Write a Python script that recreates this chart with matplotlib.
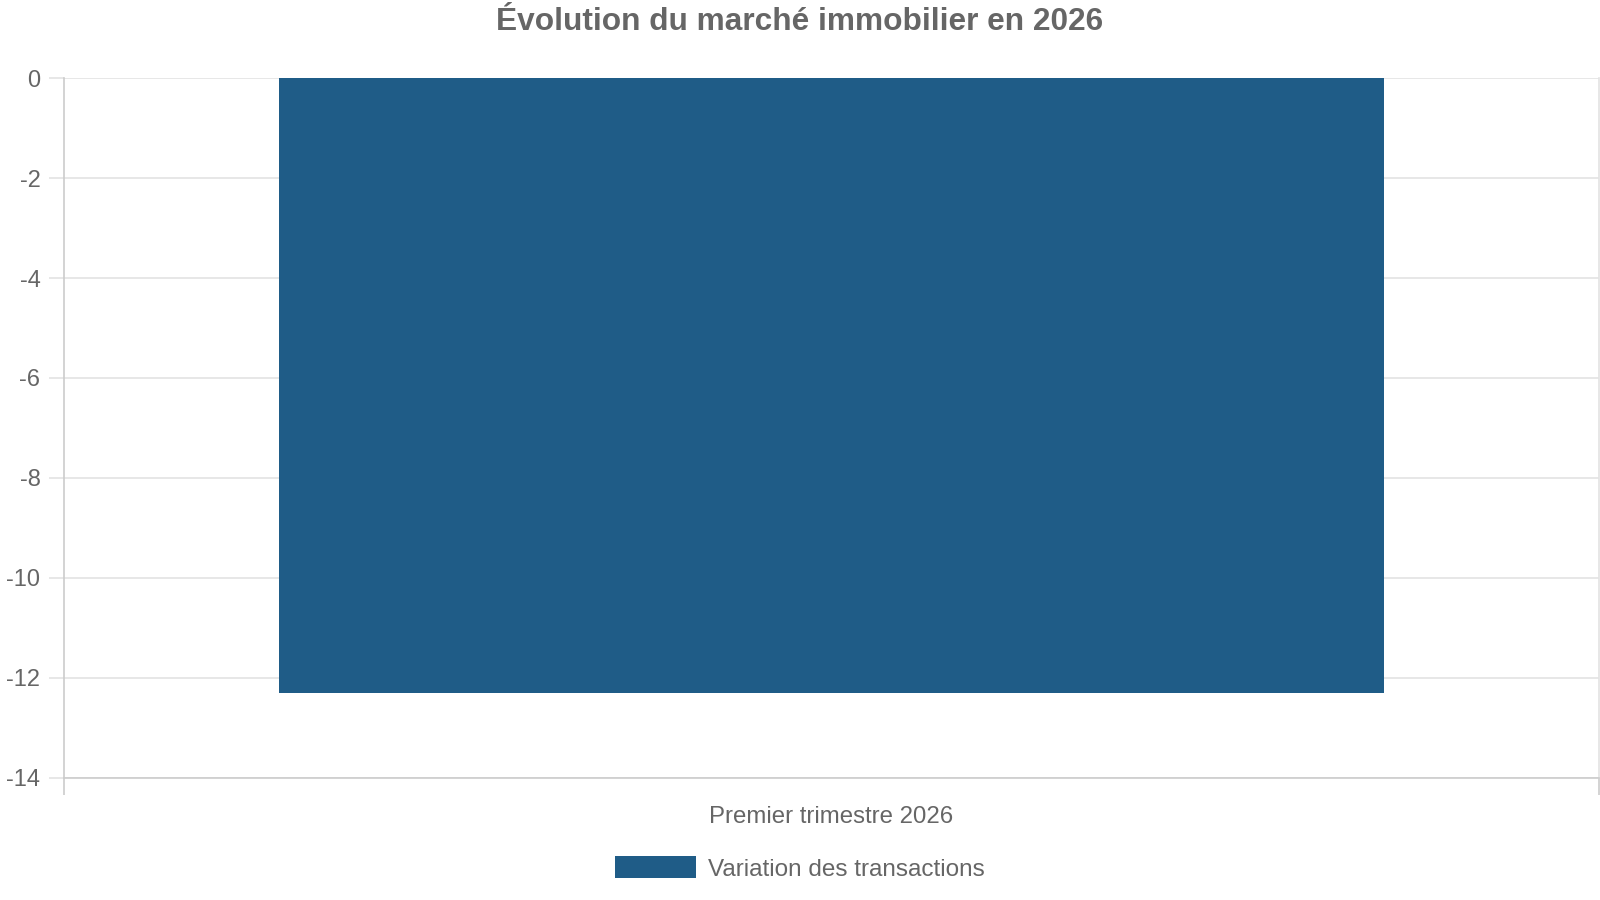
import matplotlib.pyplot as plt
from matplotlib.patches import Patch

categories = ["Premier trimestre 2026"]
variation = [-12.3]
series_name = "Variation des transactions"
y_ticks = [0, -2, -4, -6, -8, -10, -12, -14]

plt.rcParams["font.family"] = ["Liberation Sans", "DejaVu Sans"]

BAR_COLOR = "#1f5c87"
TEXT_COLOR = "#666666"
GRID_COLOR = "#e3e3e3"
AXIS_COLOR = "#cccccc"

fig = plt.figure(figsize=(16, 9), dpi=100)
ax = fig.add_axes([0.04, 0.1356, 0.9594, 0.7777])

x = list(range(len(categories)))
ax.bar(x, variation, width=0.72, color=BAR_COLOR, zorder=2)

ax.set_xlim(-0.5, len(categories) - 0.5)
ax.set_ylim(-14, 0)
ax.set_yticks(y_ticks)
ax.set_yticklabels([str(t) for t in y_ticks])
ax.grid(axis="y", color=GRID_COLOR, linewidth=1.2, zorder=1)
ax.set_axisbelow(True)

# category boundary ticks + centred label
ax.set_xticks([i - 0.5 for i in range(len(categories) + 1)])
ax.set_xticklabels([])
ax.set_xticks(x, minor=True)
ax.set_xticklabels(categories, minor=True)
ax.tick_params(axis="x", which="major", length=12, color=AXIS_COLOR, width=1.2)
ax.tick_params(axis="x", which="minor", length=0, pad=20, labelsize=17.3, labelcolor=TEXT_COLOR)
ax.tick_params(axis="y", length=11, color=GRID_COLOR, width=1.2, pad=6, labelsize=17, labelcolor=TEXT_COLOR)

ax.spines["top"].set_visible(False)
ax.spines["left"].set_color(AXIS_COLOR)
ax.spines["bottom"].set_color(AXIS_COLOR)
ax.spines["right"].set_color(GRID_COLOR)
for s in ["left", "bottom", "right"]:
    ax.spines[s].set_linewidth(1.2)

fig.suptitle("Évolution du marché immobilier en 2026", x=0.5, y=0.992,
             fontsize=22.8, fontweight="bold", color=TEXT_COLOR)

handles = [Patch(facecolor=BAR_COLOR, label=series_name)]
fig.legend(handles=handles, loc="center", bbox_to_anchor=(0.5, 0.035), frameon=False,
           fontsize=17.5, labelcolor=TEXT_COLOR, handlelength=3.3, handleheight=1.0,
           handletextpad=0.5)

fig.savefig("out.png", dpi=100)
